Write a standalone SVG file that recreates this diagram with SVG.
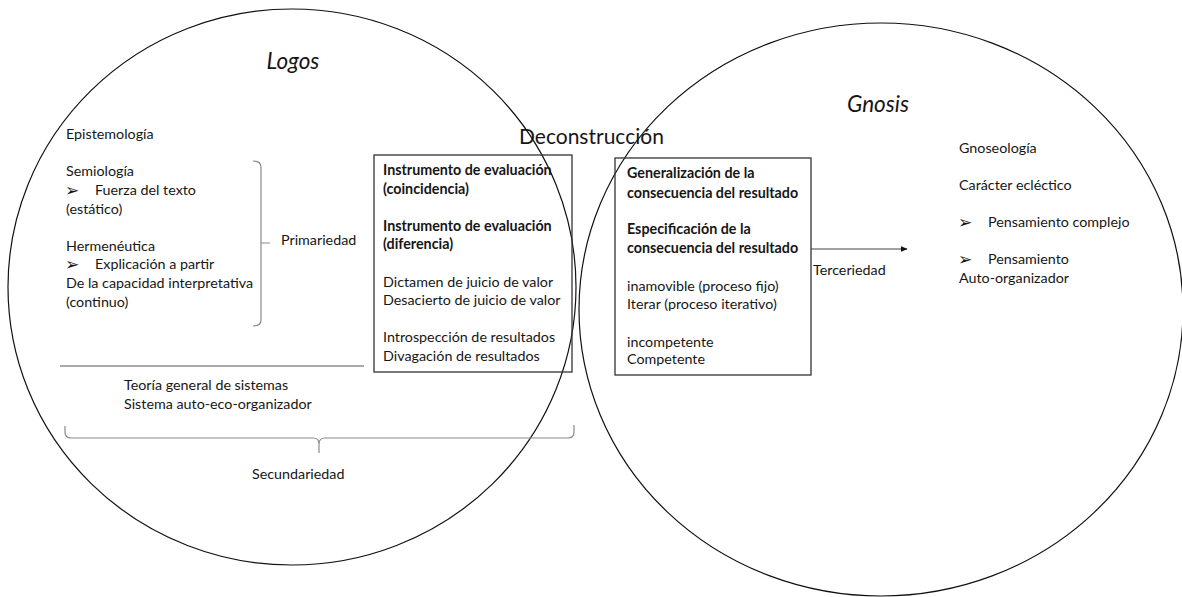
<svg xmlns="http://www.w3.org/2000/svg" width="1182" height="597" viewBox="0 0 1182 597">
  <style>
    text { font-family: Lato, "Liberation Sans", sans-serif; font-size: 14.3px; fill: #161616; }
    .b { font-weight: bold; font-size: 14.3px; }
    .title { font-style: italic; font-size: 22.5px; }
    .big { font-size: 21px; }
    .sym { font-family: "DejaVu Sans", sans-serif; font-size: 17px; }
    .ring { fill: none; stroke: #111; stroke-width: 1.2; }
    .box { fill: none; stroke: #333; stroke-width: 1.3; }
    .brace { fill: none; stroke: #8a8a8a; stroke-width: 1.2; }
    .rule { stroke: #555; stroke-width: 1; }
    .link { stroke: #444; stroke-width: 1.2; fill: none; }
  </style>
  <defs>
    <marker id="arrowhead" viewBox="0 0 10 10" refX="9" refY="5" markerWidth="7" markerHeight="7" orient="auto" markerUnits="userSpaceOnUse">
      <path d="M0,1 L10,5 L0,9 Z" fill="#111"/>
    </marker>
  </defs>

  <rect width="1182" height="597" fill="#fff"/>

  <!-- Logos: left ellipse with its contents -->
  <g id="logos">
    <ellipse class="ring" cx="292" cy="287" rx="284" ry="278"/>
    <text class="title" x="293" y="69" text-anchor="middle">Logos</text>
    <text x="66" y="139">Epistemología</text>
    <text x="66" y="176">Semiología</text>
    <text class="sym" x="65" y="196">➢</text>
    <text x="95" y="195">Fuerza del texto</text>
    <text x="66" y="214">(estático)</text>
    <text x="66" y="251">Hermenéutica</text>
    <text class="sym" x="65" y="270">➢</text>
    <text x="95" y="269">Explicación a partir</text>
    <text x="66" y="288">De la capacidad interpretativa</text>
    <text x="66" y="307">(continuo)</text>
  </g>

  <!-- Primariedad bracket -->
  <g id="primariedad">
    <path class="brace" d="M253,161 Q261,161 261,167 V320 Q261,326 253,326 M261,243 H270"/>
    <text x="281" y="245">Primariedad</text>
  </g>

  <!-- Secundariedad: rule, systems text and bottom brace -->
  <g id="secundariedad">
    <line class="rule" x1="60" y1="366" x2="364" y2="366"/>
    <text x="124" y="390">Teoría general de sistemas</text>
    <text x="124" y="409">Sistema auto-eco-organizador</text>
    <path class="brace" d="M65,426 V432 Q65,438 71,438 H313 Q319,438 319,444 V453 M319,444 Q319,438 325,438 H568 Q574,438 574,432 V425"/>
    <text x="252" y="479">Secundariedad</text>
  </g>

  <!-- Deconstruction heading -->
  <g id="deconstruccion">
    <text class="big" x="519" y="144">Deconstrucción</text>
  </g>

  <!-- Evaluation instruments box -->
  <g id="instrumentos">
    <rect class="box" x="374" y="155" width="198" height="217"/>
    <text class="b" x="383" y="175">Instrumento de evaluación</text>
    <text class="b" x="383" y="194">(coincidencia)</text>
    <text class="b" x="383" y="231">Instrumento de evaluación</text>
    <text class="b" x="383" y="249">(diferencia)</text>
    <text x="383" y="287">Dictamen de juicio de valor</text>
    <text x="383" y="305">Desacierto de juicio de valor</text>
    <text x="383" y="342">Introspección de resultados</text>
    <text x="383" y="361">Divagación de resultados</text>
  </g>

  <!-- Gnosis: right ellipse with its contents -->
  <g id="gnosis">
    <ellipse class="ring" cx="881" cy="309.5" rx="302" ry="286.5"/>
    <text class="title" x="878" y="112" text-anchor="middle">Gnosis</text>
    <text x="959" y="153">Gnoseología</text>
    <text x="959" y="190">Carácter ecléctico</text>
    <text class="sym" x="958" y="228">➢</text>
    <text x="988" y="227">Pensamiento complejo</text>
    <text class="sym" x="958" y="265">➢</text>
    <text x="988" y="264">Pensamiento</text>
    <text x="959" y="283">Auto-organizador</text>
  </g>

  <!-- Consequence box -->
  <g id="consecuencia">
    <rect class="box" x="615" y="158" width="196" height="217"/>
    <text class="b" x="627" y="178">Generalización de la</text>
    <text class="b" x="627" y="198">consecuencia del resultado</text>
    <text class="b" x="627" y="234">Especificación de la</text>
    <text class="b" x="627" y="253">consecuencia del resultado</text>
    <text x="627" y="291">inamovible (proceso fijo)</text>
    <text x="627" y="309">Iterar (proceso iterativo)</text>
    <text x="627" y="347">incompetente</text>
    <text x="627" y="364">Competente</text>
  </g>

  <!-- Connectors -->
  <g id="connectors">
    <line class="link" x1="811" y1="249" x2="907" y2="249" marker-end="url(#arrowhead)"/>
    <text x="813" y="275">Terceriedad</text>
  </g>
</svg>
